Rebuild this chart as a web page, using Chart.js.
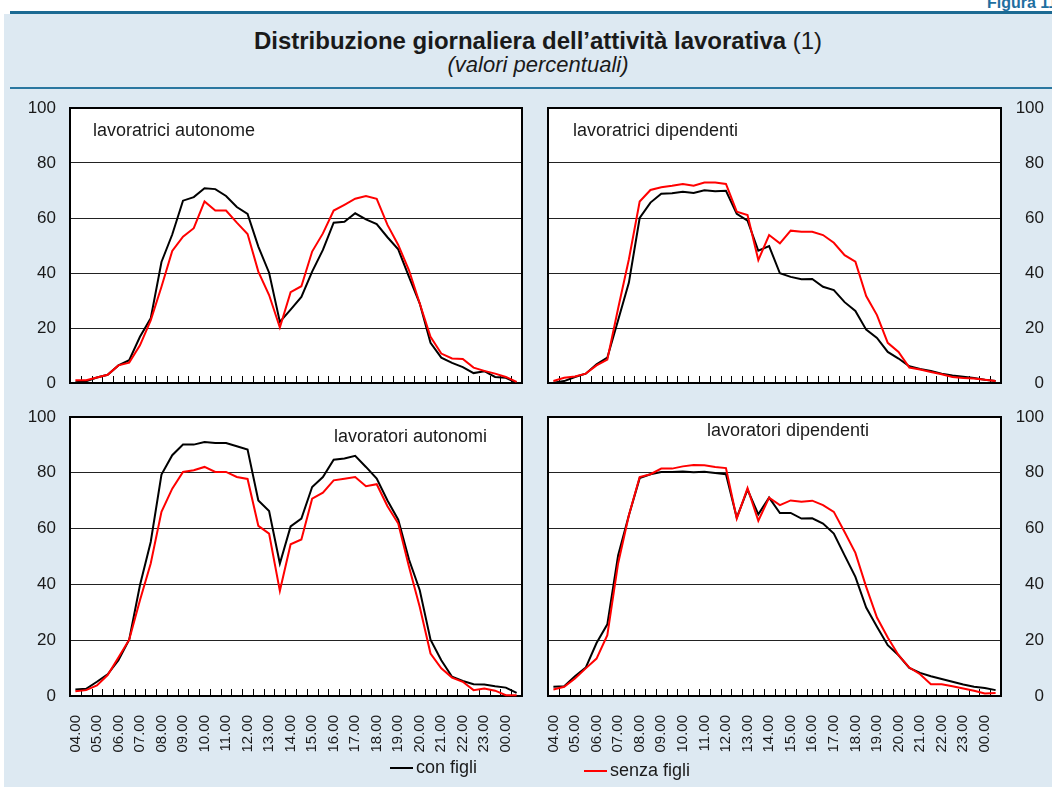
<!DOCTYPE html>
<html>
<head>
<meta charset="utf-8">
<script src="https://cdn.jsdelivr.net/npm/chart.js@4"></script>
<style>
  body { margin: 0; width: 1052px; height: 787px; background: #fff; position: relative; overflow: hidden;
         font-family: "Liberation Sans", Arial, sans-serif; color: #1a1a1a; }
  #bg { position: absolute; left: 4px; top: 14px; right: 0; bottom: 0; background: #dde9f2; }
  #topline { position: absolute; left: 10px; top: 11px; right: 0; height: 3px; background: #1b6a93; }
  #midline { position: absolute; left: 10px; top: 87px; right: 0; height: 2px; background: #2a77a0; }
  #fig { position: absolute; left: 987px; top: -6px; color: #1f6fa0; font-weight: bold; font-size: 16px; white-space: nowrap; }
  #title { position: absolute; left: 188px; width: 700px; top: 27px; text-align: center; font-size: 24px; white-space: nowrap; }
  #subtitle { position: absolute; left: 188px; width: 700px; top: 52px; text-align: center; font-size: 22px; font-style: italic; }
  canvas { position: absolute; }
  .lab { position: absolute; font-size: 18px; white-space: nowrap; }
  .leg { position: absolute; font-size: 18px; white-space: nowrap; }
  .leg i { display: inline-block; width: 23px; height: 2px; vertical-align: middle; margin-right: 3px; }
</style>
</head>
<body>
<div id="bg"></div>
<div id="topline"></div>
<div id="fig">Figura 11.</div>
<div id="title"><b>Distribuzione giornaliera dell’attività lavorativa</b> (1)</div>
<div id="subtitle">(valori percentuali)</div>
<div id="midline"></div>

<canvas id="c1" width="530" height="300" style="left:0;top:95px"></canvas>
<canvas id="c2" width="517" height="300" style="left:535px;top:95px"></canvas>
<canvas id="c3" width="530" height="382" style="left:0;top:405px"></canvas>
<canvas id="c4" width="517" height="382" style="left:535px;top:405px"></canvas>

<div class="lab" style="left:93px;top:120px">lavoratrici autonome</div>
<div class="lab" style="left:573px;top:120px">lavoratrici dipendenti</div>
<div class="lab" style="left:334px;top:426px">lavoratori autonomi</div>
<div class="lab" style="left:707px;top:420px">lavoratori dipendenti</div>

<div class="leg" style="left:390px;top:757px"><i style="background:#000"></i>con figli</div>
<div class="leg" style="left:584px;top:760px"><i style="background:#ff0000"></i>senza figli</div>

<script>
// half-hour slots, 04.00 -> 00.30
var categories = ['04.00','04.30','05.00','05.30','06.00','06.30','07.00','07.30','08.00','08.30',
  '09.00','09.30','10.00','10.30','11.00','11.30','12.00','12.30','13.00','13.30',
  '14.00','14.30','15.00','15.30','16.00','16.30','17.00','17.30','18.00','18.30',
  '19.00','19.30','20.00','20.30','21.00','21.30','22.00','22.30','23.00','23.30',
  '00.00','00.30'];

var yTicks = [0, 20, 40, 60, 80, 100];

// lavoratrici autonome
var lavoratriciAutonomeCon = [0.3,0.6,2,3,6.4,8.3,16.8,23.5,44,54,66.3,67.6,70.8,70.5,68,64,61.5,49.6,40.1,22.2,
  26.7,31.3,40.5,48.4,58.3,58.6,61.7,59.5,57.8,53,48.6,38.6,28.9,14.6,9.2,7.3,5.8,3.6,4.3,2.2,1.9,0.1];
var lavoratriciAutonomeSenza = [1,1,2,3,6.4,7.4,13.7,22.8,35,48,53.2,56.3,66,62.7,62.7,58.3,54.2,40.5,32,20.2,
  33,35.2,47.8,54.4,62.7,64.8,67,68,67,57.5,50.2,41,28.9,16.8,10.7,8.9,8.7,5.6,4.4,3.4,2.2,0.4];

// lavoratrici dipendenti
var lavoratriciDipendentiCon = [0.1,0.7,2.2,3.4,6.8,9.2,22.8,36.5,60,65.6,68.8,69,69.5,69.1,70.1,69.7,69.9,61.5,59,48.1,
  49.8,39.9,38.6,37.7,37.8,35,33.8,29.4,26.2,19.4,16.4,11.3,8.9,6.1,5.1,4.4,3.4,2.7,2.3,1.8,1.2,0.7];
var lavoratriciDipendentiSenza = [0.7,1.9,2.4,3.4,6.4,8.5,27.1,45,66,70.2,71.2,71.7,72.4,71.7,72.9,72.9,72.4,62.3,61.1,44.7,
  53.8,50.8,55.4,55,55,53.8,51,46.5,44.1,31.6,24.7,14.6,11.3,5.6,4.9,4,3.2,2.2,1.8,1.6,1.2,0.7];

// lavoratori autonomi
var lavoratoriAutonomiCon = [2.3,2.6,5.1,7.8,12.8,20.2,39.7,55.2,79.4,86.3,90.1,90.1,91,90.7,90.7,89.5,88.3,70.1,66.3,47.5,
  60.8,63.6,74.9,78.5,84.7,85.1,86.1,82.1,77.9,70.1,63.2,48.9,37.9,20.2,12.8,6.9,5.4,4.2,4.1,3.5,3,1.1];
var lavoratoriAutonomiSenza = [1.7,2.1,3.8,7.5,13.8,20.2,34.3,47.5,66,74.3,80.3,80.9,82.1,80.3,80.3,78.5,77.8,61,58.2,37.7,
  54.4,56.1,70.7,72.9,77.3,77.9,78.5,75.2,75.9,68,61.8,46.3,31.9,15.2,9.9,6.6,5.1,2.1,2.7,1.9,0.3,0.3];

// lavoratori dipendenti
var lavoratoriDipendentiCon = [3.3,3.5,7.1,10.2,19,25.7,50.4,64.8,78.1,79.5,80.3,80.3,80.5,80.2,80.4,79.9,79.5,63.9,74,65.1,
  71.1,65.6,65.6,63.6,63.7,61.8,58.2,50.4,42.7,31.7,24.8,18.2,14.6,10.1,8.3,7.1,6.1,5.1,4.1,3.3,2.9,2.1];
var lavoratoriDipendentiSenza = [2.3,3.3,6.3,9.9,13.4,21.8,47.5,64.8,78.5,79.5,81.5,81.5,82.3,82.8,82.7,82.1,81.7,63.6,74.5,62.8,
  71.1,68.4,70.1,69.6,70,68.4,66,58.8,51.3,39.1,28.1,21,14.6,10.2,7.8,4.2,4.2,3.5,2.7,1.9,0.9,1.1];

Chart.defaults.font.family = '"Liberation Sans", Arial, sans-serif';
Chart.defaults.color = '#1a1a1a';

// white plot area, frame and the little tick marks inside the bottom axis
var plotFrame = {
  id: 'plotFrame',
  beforeDraw: function(chart) {
    var a = chart.chartArea, ctx = chart.ctx;
    ctx.save();
    ctx.fillStyle = '#fff';
    ctx.fillRect(a.left, a.top, a.right - a.left, a.bottom - a.top);
    ctx.restore();
  },
  beforeDatasetsDraw: function(chart) {
    var a = chart.chartArea, ctx = chart.ctx, x = chart.scales.x;
    ctx.save();
    ctx.strokeStyle = '#000';
    ctx.lineWidth = 1;
    ctx.beginPath();
    for (var i = 1; i < categories.length; i++) {
      var px = Math.round((x.getPixelForValue(i - 1) + x.getPixelForValue(i)) / 2) + 0.5;
      ctx.moveTo(px, a.bottom);
      ctx.lineTo(px, a.bottom - 7);
    }
    ctx.stroke();
    ctx.lineWidth = 2;
    ctx.strokeRect(a.left, a.top, a.right - a.left, a.bottom - a.top);
    ctx.restore();
  }
};

function makeChart(id, conFigli, senzaFigli, side, showHours, pad) {
  new Chart(document.getElementById(id), {
    type: 'line',
    data: {
      labels: categories,
      datasets: [
        { label: 'con figli', data: conFigli, borderColor: '#000', borderWidth: 2, pointRadius: 0, tension: 0, order: 1, clip: 5 },
        { label: 'senza figli', data: senzaFigli, borderColor: '#ff0000', borderWidth: 2, pointRadius: 0, tension: 0, order: 0, clip: 5 }
      ]
    },
    options: {
      responsive: false,
      animation: false,
      layout: { padding: pad },
      plugins: { legend: { display: false }, tooltip: { enabled: false } },
      scales: {
        x: {
          type: 'category',
          offset: true,
          grid: { display: false },
          border: { display: false },
          ticks: {
            display: showHours,
            autoSkip: false,
            maxRotation: 90,
            minRotation: 90,
            padding: 11,
            font: { size: 15 },
            callback: function(v, i) { return categories[i].slice(3) === '00' ? categories[i] : ''; }
          },
          afterFit: function(s) { s.height = showHours ? 60 : 0; s.paddingLeft = 0; s.paddingRight = 0; }
        },
        y: {
          position: side,
          min: 0,
          max: 100,
          afterBuildTicks: function(s) { s.ticks = yTicks.map(function(v) { return { value: v }; }); },
          grid: { color: '#222', lineWidth: 1, drawTicks: false },
          border: { display: false },
          ticks: { padding: 14, crossAlign: side === 'right' ? 'far' : 'near', font: { size: 17 } },
          afterFit: function(s) { s.width = side === 'left' ? 70 : 43; s.paddingTop = 0; s.paddingBottom = 0; }
        }
      }
    },
    plugins: [plotFrame]
  });
}

makeChart('c1', lavoratriciAutonomeCon, lavoratriciAutonomeSenza, 'left', false, { left: 0, right: 8, top: 13, bottom: 12 });
makeChart('c2', lavoratriciDipendentiCon, lavoratriciDipendentiSenza, 'right', false, { left: 13, right: 8, top: 13, bottom: 12 });
makeChart('c3', lavoratoriAutonomiCon, lavoratoriAutonomiSenza, 'left', true, { left: 0, right: 8, top: 12, bottom: 31 });
makeChart('c4', lavoratoriDipendentiCon, lavoratoriDipendentiSenza, 'right', true, { left: 13, right: 8, top: 12, bottom: 31 });
</script>
</body>
</html>
